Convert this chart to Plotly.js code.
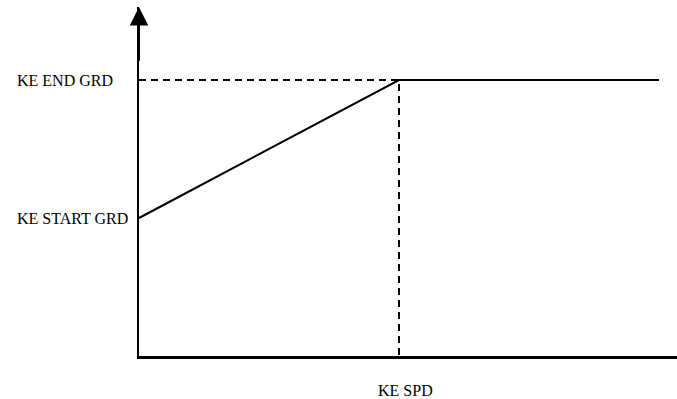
<!DOCTYPE html>
<html>
<head>
<meta charset="utf-8">
<script src="https://cdn.plot.ly/plotly-3.0.1.min.js"></script>
<style>html,body{margin:0;padding:0;background:#fff;}#chart{width:677px;height:399px;}</style>
</head>
<body>
<div id="chart"></div>
<script>
// Speed breakpoints (0 = origin, 1 = KE SPD, 2 = end of curve)
var speedPoints = [0, 1, 2];
// Gain values (KE START GRD = 0.5, KE END GRD = 1.0)
var gainValues = [0.5, 1, 1];
// Dashed guide lines to the KE SPD / KE END GRD corner
var guideX = [0, 1, 1];
var guideY = [1, 1, 0];
// Labels
var yLabelValues = [1, 0.5];
var yLabelTexts = ["KE END GRD", "KE START GRD"];
var xLabelText = "KE SPD";

var font = {family: "Liberation Serif, Times New Roman, serif", size: 16, color: "#000"};

var traces = [
  {x: guideX, y: guideY, mode: "lines", line: {color: "#000", width: 2, dash: "7px,5px"}, hoverinfo: "skip", cliponaxis: false},
  {x: speedPoints, y: gainValues, mode: "lines", line: {color: "#000", width: 2}, hoverinfo: "skip", cliponaxis: false}
];

var yTop = 349 / 276;
var annotations = yLabelValues.map(function (v, i) {
  return {xref: "paper", yref: "y", x: 0, y: v, xanchor: "left", yanchor: "middle",
          xshift: -124, text: yLabelTexts[i], showarrow: false, font: font};
});
annotations.push({xref: "paper", yref: "paper", x: (405 - 139) / 538, y: 0, xanchor: "center", yanchor: "middle",
  yshift: -34, text: xLabelText, showarrow: false, font: font});
annotations.push({xref: "x", yref: "y", x: 0, y: yTop, axref: "x", ayref: "y", ax: 0, ay: yTop - 0.2,
  text: "", showarrow: true, arrowhead: 2, arrowwidth: 2, arrowsize: 1.85, arrowcolor: "#000"});

var layout = {
  width: 677, height: 399,
  margin: {l: 139, r: 0, t: 7, b: 43, pad: 0},
  paper_bgcolor: "#fff", plot_bgcolor: "#fff",
  showlegend: false,
  xaxis: {range: [0, 538 / 260], showline: true, linecolor: "#000", linewidth: 2.5, showgrid: false,
          zeroline: false, showticklabels: false, ticks: "", fixedrange: true},
  yaxis: {range: [0, yTop], showline: true, linecolor: "#000", linewidth: 2, showgrid: false,
          zeroline: false, showticklabels: false, ticks: "", fixedrange: true},
  annotations: annotations
};

Plotly.newPlot("chart", traces, layout, {displayModeBar: false, staticPlot: true});
</script>
</body>
</html>
